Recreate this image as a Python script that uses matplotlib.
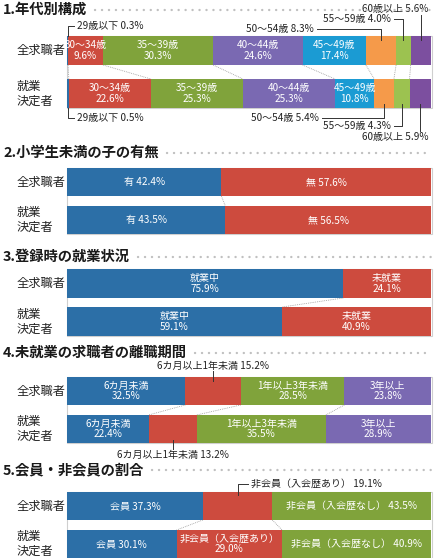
import matplotlib
matplotlib.use("Agg")
import matplotlib.pyplot as plt
from matplotlib import transforms
from matplotlib.patches import Rectangle
from matplotlib.lines import Line2D

plt.rcParams['font.family'] = ['Noto Sans CJK JP', 'DejaVu Sans']

W, H = 434, 558

# ---- data ----
row_labels = ["全求職者", "就業\n決定者"]

age_labels = ["29歳以下", "30〜34歳", "35〜39歳", "40〜44歳", "45〜49歳",
              "50〜54歳", "55〜59歳", "60歳以上"]
age_all = [0.3, 9.6, 30.3, 24.6, 17.4, 8.3, 4.0, 5.6]
age_hired = [0.5, 22.6, 25.3, 25.3, 10.8, 5.4, 4.3, 5.9]

child_labels = ["有", "無"]
child_all = [42.4, 57.6]
child_hired = [43.5, 56.5]

work_labels = ["就業中", "未就業"]
work_all = [75.9, 24.1]
work_hired = [59.1, 40.9]

gap_labels = ["6カ月未満", "6カ月以上1年未満", "1年以上3年未満", "3年以上"]
gap_all = [32.5, 15.2, 28.5, 23.8]
gap_hired = [22.4, 13.2, 35.5, 28.9]

member_labels = ["会員", "非会員（入会歴あり）", "非会員（入会歴なし）"]
member_all = [37.3, 19.1, 43.5]
member_hired = [30.1, 29.0, 40.9]

# ---- colours ----
BLUE = '#2c6fa7'
RED = '#cd4b3e'
GREEN = '#80a33b'
PURPLE = '#7a69b2'
CYAN = '#1b9bd3'
ORANGE = '#f59a4a'
LGREEN = '#9cc250'
DPURPLE = '#7c4f9f'

FS_IN = 7.2    # text in/near bars
FS_ROW = 8.8   # row labels
FS_TTL = 10.3  # section titles

fig = plt.figure(figsize=(W / 100, H / 100), dpi=100)
fig.patch.set_facecolor('white')
# pixel transform, origin top-left
PX = transforms.Affine2D().scale(1, -1).translate(0, H)

BAR_L, BAR_W = 67, 364
titles = []


def section(title, title_y, top_px, bot_px, h, labels, v_top, v_bot, colors, styles):
    ax = fig.add_axes([BAR_L / W, 1 - bot_px / H, BAR_W / W, (bot_px - top_px) / H])
    total = max(sum(v_top), sum(v_bot))
    ax.set_xlim(0, total)
    ax.set_ylim(1 + h / 2, -h / 2)
    ax.axis('off')
    # frame behind bars
    ax.add_patch(Rectangle((0, -h / 2), total + 0.4, 1 + h, facecolor='white',
                           edgecolor='#cfcfcf', lw=0.8, zorder=0, clip_on=False))
    for row, vals in enumerate([v_top, v_bot]):
        lefts = [sum(vals[:i]) for i in range(len(vals))]
        ax.barh(row, vals, left=lefts, height=h, color=colors, edgecolor='none', zorder=2)
        for i, (l, v) in enumerate(zip(lefts, vals)):
            st = styles[row][i]
            if st == '2':
                s = f"{labels[i]}\n{v:.1f}%"
            elif st == '1':
                s = f"{labels[i]} {v:.1f}%"
            else:
                continue
            ax.text(l + v / 2, row, s, ha='center', va='center', color='white',
                    fontsize=FS_IN, linespacing=1.1, zorder=3)
    # dotted connectors between boundaries
    for i in range(1, len(v_top)):
        ax.plot([sum(v_top[:i]), sum(v_bot[:i])], [h / 2, 1 - h / 2], color='#999999',
                lw=0.6, ls=(0, (1, 1.2)), zorder=1, clip_on=False)
    # row labels
    tr = transforms.blended_transform_factory(ax.transAxes, ax.transData)
    for row, lab in enumerate(row_labels):
        ax.text((17 - BAR_L) / BAR_W, row, lab, transform=tr, ha='left', va='center',
                fontsize=FS_ROW, linespacing=1.2, color='#222222')
    t = fig.text(3 / W, 1 - title_y / H, title, ha='left', va='center',
                 fontsize=FS_TTL, fontweight='bold', color='#1a1a1a')
    titles.append((t, title_y))
    return ax, total


def callout(ax, total, vals, i, y0, y1, text, arm=0, ty=None, tx=None, ha='center'):
    tr = transforms.blended_transform_factory(ax.transData, PX)
    x = sum(vals[:i]) + vals[i] / 2
    k = total / BAR_W
    xs, ys = [x, x], [y0, y1]
    if arm:
        xs.append(x + arm * k)
        ys.append(y1)
    ax.add_line(Line2D(xs, ys, transform=tr, color='#333333', lw=0.7, clip_on=False))
    if arm:
        xt = x + (arm + (3 if arm > 0 else -3)) * k
        ax.text(xt, y1, text, transform=tr, ha='left' if arm > 0 else 'right',
                va='center', fontsize=FS_IN, color='#222222')
    else:
        xt = x + (tx or 0) * k
        ax.text(xt, ty, text, transform=tr, ha=ha, va='center', fontsize=FS_IN,
                color='#222222')


# 1. age
c1 = [BLUE, RED, GREEN, PURPLE, CYAN, ORANGE, LGREEN, DPURPLE]
s1 = [['', '2', '2', '2', '2', '', '', ''], ['', '2', '2', '2', '2', '', '', '']]
ax1, t1 = section("1.年代別構成", 10, 36, 108, 29 / 43, age_labels, age_all, age_hired, c1, s1)
callout(ax1, t1, age_all, 0, 36, 26, f"{age_labels[0]} {age_all[0]:.1f}%", arm=6)
callout(ax1, t1, age_all, 5, 40, 29, f"{age_labels[5]} {age_all[5]:.1f}%", arm=-64)
callout(ax1, t1, age_all, 6, 40, 19, f"{age_labels[6]} {age_all[6]:.1f}%", arm=-9)
callout(ax1, t1, age_all, 7, 40, 15, f"{age_labels[7]} {age_all[7]:.1f}%", ty=9, tx=8, ha='right')
callout(ax1, t1, age_hired, 0, 108, 118, f"{age_labels[0]} {age_hired[0]:.1f}%", arm=6)
callout(ax1, t1, age_hired, 5, 104, 118, f"{age_labels[5]} {age_hired[5]:.1f}%", arm=-62)
callout(ax1, t1, age_hired, 6, 104, 126, f"{age_labels[6]} {age_hired[6]:.1f}%", arm=-8)
callout(ax1, t1, age_hired, 7, 104, 131, f"{age_labels[7]} {age_hired[7]:.1f}%", ty=137, tx=8, ha='right')

# 2. children
section("2.小学生未満の子の有無", 153, 168, 234, 28 / 38, child_labels, child_all, child_hired,
        [BLUE, RED], [['1', '1'], ['1', '1']])

# 3. work status
section("3.登録時の就業状況", 257, 269, 336, 29 / 38, work_labels, work_all, work_hired,
        [BLUE, RED], [['2', '2'], ['2', '2']])

# 4. unemployment period
ax4, t4 = section("4.未就業の求職者の離職期間", 353, 377, 443, 28 / 38, gap_labels, gap_all, gap_hired,
                  [BLUE, RED, GREEN, PURPLE], [['2', '', '2', '2'], ['2', '', '2', '2']])
callout(ax4, t4, gap_all, 1, 381, 371, f"{gap_labels[1]} {gap_all[1]:.1f}%", ty=366)
callout(ax4, t4, gap_hired, 1, 440, 449, f"{gap_labels[1]} {gap_hired[1]:.1f}%", ty=455)

# 5. membership
ax5, t5 = section("5.会員・非会員の割合", 470, 492, 558, 28 / 38, member_labels, member_all, member_hired,
                  [BLUE, RED, GREEN], [['1', '', '1'], ['1', '2', '1']])
callout(ax5, t5, member_all, 1, 495, 484, f"{member_labels[1]} {member_all[1]:.1f}%", arm=10)

# dotted rule after each title
fig.canvas.draw()
r = fig.canvas.get_renderer()
for t, ty in titles:
    bb = t.get_window_extent(r)
    fig.add_artist(Line2D([bb.x1 + 8, 431], [H - ty, H - ty], transform=None,
                          color='#c0c0c0', lw=1.7, ls=(0, (0.05, 2.9)),
                          dash_capstyle='round', solid_capstyle='round'))

fig.savefig("out.png", dpi=100, facecolor='white')
